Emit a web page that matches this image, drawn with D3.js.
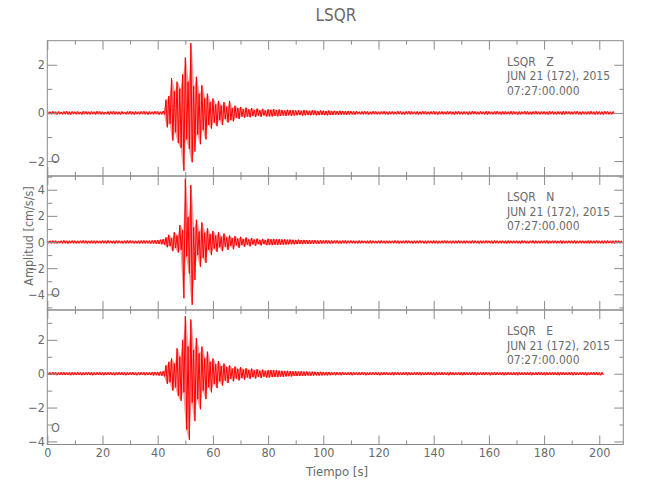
<!DOCTYPE html>
<html><head><meta charset="utf-8">
<script src="https://cdn.jsdelivr.net/npm/d3@7"></script>
<style>
body{margin:0;background:#fff}
svg text{font-family:"Liberation Sans Narrow","DejaVu Sans Condensed","Liberation Sans",sans-serif;fill:#6a6a6a}
</style></head><body>
<svg id="chart" width="650" height="500"></svg>
<script>
// ---------- data ----------
const chartTitle = "LSQR";
const xLabel = "Tiempo [s]";
const yLabel = "Amplitud [cm/s/s]";
const componentNames = ["LSQR   Z", "LSQR   N", "LSQR   E"];
const dateLine = "JUN 21 (172), 2015";
const timeLine = "07:27:00.000";
const markerLabel = "O";
const xDomain = [0, 208.7];
const xMajorTicks = [0, 20, 40, 60, 80, 100, 120, 140, 160, 180, 200];
const xMinorTicks = [10, 30, 50, 70, 90, 110, 130, 150, 170, 190];
const zDomain = [-2.62, 3.0];
const nDomain = [-5.2, 5.05];
const eDomain = [-4.18, 3.76];
const zTicks = [-2, 0, 2];
const nTicks = [-4, -2, 0, 2, 4];
const eTicks = [-4, -2, 0, 2];
const zMinor = [-1, 1];
const nMinor = [-5, -3, -1, 1, 3, 5];
const eMinor = [-3, -1, 1, 3];

// per-second peak (hi) and trough (lo) amplitudes
const zHi = [0.06,0.05,0.07,0.05,0.06,0.04,0.06,0.07,0.05,0.06,0.05,0.06,0.04,0.07,0.06,0.05,0.06,0.05,0.07,0.06,
0.05,0.04,0.06,0.06,0.07,0.05,0.05,0.06,0.04,0.06,0.07,0.05,0.06,0.05,0.06,0.07,0.05,0.06,0.05,0.07,
0.06,0.05,0.08,0.55,0.7,1.45,0.9,1.3,1.0,1.6,2.3,1.3,2.9,1.1,1.5,0.8,1.15,0.6,0.8,0.45,
0.6,0.35,0.5,0.3,0.45,0.25,0.5,0.2,0.3,0.2,0.25,0.15,0.22,0.14,0.2,0.12,0.18,0.11,0.17,0.1,
0.15,0.13,0.16,0.12,0.14,0.12,0.1,0.13,0.11,0.12,0.1,0.11,0.09,0.12,0.1,0.09,0.11,0.1,0.08,0.1,
0.09,0.08,0.1,0.08,0.09,0.07,0.09,0.08,0.07,0.08,0.07,0.06,0.07,0.05,0.06,0.07,0.06,0.05,0.07,0.06,
0.05,0.06,0.07,0.05,0.06,0.06,0.05,0.07,0.06,0.05,0.06,0.07,0.06,0.05,0.06,0.05,0.07,0.06,0.05,0.06,
0.07,0.05,0.06,0.06,0.05,0.07,0.06,0.05,0.06,0.07,0.05,0.06,0.05,0.06,0.07,0.06,0.05,0.06,0.05,0.07,
0.06,0.05,0.06,0.07,0.05,0.06,0.06,0.05,0.07,0.06,0.05,0.06,0.05,0.07,0.06,0.05,0.06,0.07,0.05,0.06,
0.06,0.05,0.07,0.06,0.05,0.06,0.05,0.07,0.06,0.06,0.05,0.06,0.07,0.05,0.06,0.05,0.06,0.07,0.05,0.06,
0.06,0.05,0.07,0.06,0.05,0.06];
const zLo = [-0.05,-0.06,-0.05,-0.07,-0.05,-0.06,-0.05,-0.06,-0.07,-0.05,-0.06,-0.05,-0.07,-0.05,-0.06,-0.06,-0.05,-0.07,-0.05,-0.06,
-0.06,-0.05,-0.07,-0.05,-0.06,-0.06,-0.07,-0.05,-0.06,-0.05,-0.06,-0.07,-0.05,-0.06,-0.05,-0.06,-0.07,-0.05,-0.06,-0.05,
-0.07,-0.06,-0.07,-0.6,-0.45,-1.15,-0.8,-1.25,-1.45,-2.4,-1.1,-1.5,-2.05,-1.6,-0.9,-1.3,-0.7,-1.1,-0.5,-0.65,
-0.4,-0.55,-0.3,-0.5,-0.25,-0.4,-0.3,-0.35,-0.2,-0.25,-0.15,-0.2,-0.15,-0.18,-0.12,-0.17,-0.11,-0.16,-0.1,-0.15,
-0.14,-0.15,-0.12,-0.14,-0.13,-0.11,-0.12,-0.1,-0.12,-0.11,-0.1,-0.09,-0.11,-0.1,-0.09,-0.1,-0.08,-0.1,-0.09,-0.08,
-0.09,-0.1,-0.08,-0.09,-0.07,-0.08,-0.08,-0.07,-0.08,-0.07,-0.06,-0.07,-0.05,-0.06,-0.06,-0.05,-0.07,-0.06,-0.05,-0.06,
-0.06,-0.05,-0.06,-0.07,-0.05,-0.06,-0.06,-0.05,-0.06,-0.07,-0.05,-0.06,-0.05,-0.06,-0.07,-0.06,-0.05,-0.06,-0.06,-0.05,
-0.06,-0.07,-0.05,-0.06,-0.06,-0.05,-0.06,-0.07,-0.05,-0.06,-0.06,-0.05,-0.07,-0.06,-0.05,-0.06,-0.06,-0.05,-0.06,-0.07,
-0.05,-0.06,-0.06,-0.05,-0.07,-0.06,-0.05,-0.06,-0.06,-0.05,-0.07,-0.06,-0.05,-0.06,-0.06,-0.07,-0.05,-0.06,-0.06,-0.05,
-0.06,-0.07,-0.05,-0.06,-0.06,-0.05,-0.07,-0.06,-0.05,-0.06,-0.06,-0.05,-0.06,-0.07,-0.05,-0.06,-0.06,-0.05,-0.07,-0.06,
-0.06,-0.07,-0.05,-0.06,-0.06,-0.05];

const nHi = [0.1,0.09,0.11,0.1,0.08,0.1,0.12,0.09,0.1,0.11,0.1,0.09,0.1,0.12,0.1,0.09,0.11,0.1,0.1,0.09,
0.11,0.1,0.12,0.09,0.1,0.11,0.1,0.09,0.1,0.12,0.11,0.1,0.09,0.1,0.11,0.12,0.1,0.11,0.12,0.13,
0.15,0.18,0.22,0.35,0.55,0.3,0.75,0.5,1.3,0.9,4.85,1.9,4.35,1.1,1.7,0.8,1.5,0.7,1.05,0.6,
0.85,0.5,0.75,0.4,0.65,0.35,0.5,0.3,0.45,0.25,0.4,0.22,0.35,0.2,0.3,0.18,0.27,0.16,0.24,0.15,
0.25,0.22,0.24,0.2,0.22,0.19,0.2,0.18,0.19,0.17,0.16,0.18,0.15,0.16,0.14,0.15,0.13,0.14,0.12,0.13,
0.12,0.13,0.11,0.12,0.11,0.12,0.1,0.11,0.12,0.1,0.11,0.1,0.09,0.11,0.1,0.09,0.1,0.11,0.1,0.09,
0.1,0.11,0.09,0.1,0.1,0.09,0.11,0.1,0.09,0.1,0.11,0.1,0.09,0.1,0.1,0.11,0.09,0.1,0.1,0.09,
0.11,0.1,0.09,0.1,0.11,0.1,0.09,0.1,0.1,0.11,0.09,0.1,0.1,0.09,0.11,0.1,0.09,0.1,0.1,0.11,
0.09,0.1,0.11,0.1,0.09,0.1,0.1,0.11,0.09,0.1,0.1,0.09,0.11,0.1,0.09,0.1,0.11,0.1,0.09,0.1,
0.1,0.11,0.09,0.1,0.1,0.09,0.11,0.1,0.09,0.1,0.1,0.11,0.09,0.1,0.1,0.09,0.11,0.1,0.1,0.11,
0.09,0.1,0.1,0.11,0.09,0.1,0.11,0.1,0.09];
const nLo = [-0.09,-0.1,-0.1,-0.11,-0.09,-0.1,-0.1,-0.12,-0.09,-0.1,-0.11,-0.1,-0.09,-0.1,-0.11,-0.1,-0.1,-0.12,-0.09,-0.1,
-0.1,-0.11,-0.09,-0.1,-0.12,-0.1,-0.09,-0.11,-0.1,-0.1,-0.09,-0.11,-0.1,-0.12,-0.1,-0.11,-0.1,-0.12,-0.11,-0.13,
-0.14,-0.17,-0.2,-0.4,-0.3,-0.7,-0.45,-0.8,-0.6,-4.3,-1.1,-2.4,-4.8,-2.9,-1.0,-1.9,-1.2,-1.6,-0.6,-1.0,
-0.5,-0.75,-0.4,-0.7,-0.35,-0.6,-0.3,-0.55,-0.25,-0.45,-0.22,-0.38,-0.2,-0.33,-0.18,-0.28,-0.16,-0.26,-0.15,-0.24,
-0.23,-0.24,-0.21,-0.22,-0.2,-0.2,-0.19,-0.18,-0.17,-0.18,-0.16,-0.15,-0.16,-0.14,-0.15,-0.13,-0.14,-0.12,-0.13,-0.12,
-0.11,-0.12,-0.12,-0.11,-0.1,-0.11,-0.12,-0.1,-0.11,-0.1,-0.09,-0.1,-0.11,-0.1,-0.09,-0.1,-0.1,-0.11,-0.09,-0.1,
-0.1,-0.09,-0.11,-0.1,-0.09,-0.1,-0.1,-0.11,-0.09,-0.1,-0.1,-0.09,-0.11,-0.1,-0.1,-0.09,-0.1,-0.11,-0.09,-0.1,
-0.1,-0.11,-0.09,-0.1,-0.1,-0.09,-0.11,-0.1,-0.1,-0.09,-0.1,-0.11,-0.09,-0.1,-0.1,-0.09,-0.11,-0.1,-0.1,-0.09,
-0.1,-0.11,-0.09,-0.1,-0.1,-0.09,-0.11,-0.1,-0.1,-0.09,-0.1,-0.11,-0.09,-0.1,-0.1,-0.09,-0.11,-0.1,-0.1,-0.09,
-0.1,-0.11,-0.09,-0.1,-0.1,-0.09,-0.11,-0.1,-0.1,-0.09,-0.1,-0.11,-0.09,-0.1,-0.1,-0.09,-0.11,-0.1,-0.1,-0.09,
-0.1,-0.11,-0.1,-0.09,-0.1,-0.11,-0.09,-0.1,-0.1];

const eHi = [0.08,0.07,0.09,0.08,0.07,0.08,0.09,0.07,0.08,0.08,0.07,0.09,0.08,0.07,0.08,0.09,0.08,0.07,0.08,0.09,
0.07,0.08,0.08,0.09,0.07,0.08,0.09,0.08,0.07,0.08,0.08,0.09,0.07,0.08,0.09,0.08,0.07,0.08,0.09,0.1,
0.1,0.12,0.15,0.5,0.7,0.9,0.6,1.5,1.0,2.0,3.4,1.6,3.2,1.4,2.1,1.2,1.6,0.9,1.3,0.7,
0.9,0.55,0.75,0.45,0.6,0.4,0.5,0.3,0.42,0.28,0.38,0.25,0.32,0.22,0.3,0.2,0.26,0.18,0.24,0.17,
0.21,0.22,0.2,0.2,0.18,0.17,0.16,0.17,0.15,0.14,0.15,0.13,0.14,0.12,0.13,0.11,0.12,0.11,0.1,0.11,
0.1,0.09,0.1,0.09,0.08,0.09,0.08,0.09,0.07,0.08,0.09,0.08,0.07,0.08,0.09,0.08,0.07,0.08,0.08,0.09,
0.07,0.08,0.09,0.08,0.07,0.08,0.08,0.09,0.07,0.08,0.09,0.08,0.07,0.08,0.08,0.09,0.07,0.08,0.09,0.08,
0.07,0.08,0.08,0.09,0.07,0.08,0.09,0.08,0.07,0.08,0.08,0.09,0.07,0.08,0.09,0.08,0.07,0.08,0.08,0.09,
0.07,0.08,0.09,0.08,0.07,0.08,0.08,0.09,0.07,0.08,0.09,0.08,0.07,0.08,0.08,0.09,0.07,0.08,0.09,0.08,
0.07,0.08,0.09,0.08,0.07,0.08,0.08,0.09,0.07,0.08,0.09,0.08,0.07,0.08,0.08,0.09,0.07,0.08,0.09,0.08,
0.07,0.08];
const eLo = [-0.07,-0.08,-0.08,-0.09,-0.07,-0.08,-0.08,-0.07,-0.09,-0.08,-0.08,-0.07,-0.09,-0.08,-0.07,-0.08,-0.09,-0.08,-0.07,-0.08,
-0.09,-0.08,-0.07,-0.08,-0.09,-0.08,-0.07,-0.08,-0.09,-0.08,-0.07,-0.08,-0.09,-0.08,-0.07,-0.09,-0.08,-0.08,-0.1,-0.09,
-0.11,-0.12,-0.16,-0.6,-0.5,-1.0,-0.8,-1.3,-1.6,-1.1,-3.3,-3.9,-1.7,-2.8,-1.5,-2.1,-1.0,-1.5,-0.8,-1.1,
-0.6,-0.85,-0.45,-0.7,-0.4,-0.55,-0.3,-0.45,-0.28,-0.4,-0.25,-0.35,-0.22,-0.3,-0.2,-0.28,-0.18,-0.25,-0.17,-0.23,
-0.22,-0.2,-0.19,-0.2,-0.17,-0.18,-0.16,-0.15,-0.16,-0.14,-0.14,-0.13,-0.12,-0.13,-0.11,-0.12,-0.11,-0.1,-0.11,-0.1,
-0.09,-0.1,-0.09,-0.08,-0.09,-0.08,-0.09,-0.07,-0.08,-0.08,-0.09,-0.07,-0.08,-0.08,-0.07,-0.09,-0.08,-0.08,-0.07,-0.08,
-0.09,-0.08,-0.07,-0.08,-0.08,-0.09,-0.07,-0.08,-0.08,-0.07,-0.09,-0.08,-0.08,-0.07,-0.08,-0.09,-0.08,-0.07,-0.08,-0.08,
-0.09,-0.07,-0.08,-0.08,-0.07,-0.09,-0.08,-0.08,-0.07,-0.08,-0.09,-0.08,-0.07,-0.08,-0.08,-0.09,-0.07,-0.08,-0.08,-0.07,
-0.09,-0.08,-0.08,-0.07,-0.08,-0.09,-0.08,-0.07,-0.08,-0.08,-0.09,-0.07,-0.08,-0.08,-0.07,-0.09,-0.08,-0.08,-0.07,-0.08,
-0.09,-0.08,-0.07,-0.08,-0.08,-0.09,-0.07,-0.08,-0.08,-0.07,-0.09,-0.08,-0.08,-0.07,-0.08,-0.09,-0.08,-0.07,-0.08,-0.08,
-0.09,-0.08];

// ---------- layout ----------
const svg = d3.select("#chart");
const L = 47.3, R = 623.3;
const panelEdges = [40.7, 176, 310, 444.5];
const axisColor = "#8a8a8a";
const traceColor = "#ff0000";

const x = d3.scaleLinear().domain(xDomain).range([L, R]);

const panels = [
  {name: componentNames[0], hi: zHi, lo: zLo, domain: zDomain, ticks: zTicks, minor: zMinor},
  {name: componentNames[1], hi: nHi, lo: nLo, domain: nDomain, ticks: nTicks, minor: nMinor},
  {name: componentNames[2], hi: eHi, lo: eLo, domain: eDomain, ticks: eTicks, minor: eMinor}
];

function styleAxis(g) {
  g.select(".domain").remove();
  g.selectAll(".tick line").attr("stroke", axisColor).attr("stroke-width", 1);
  g.selectAll(".tick text").attr("fill", "#6a6a6a").attr("font-size", 12.5)
    .style("font-family", '"Liberation Sans Narrow","DejaVu Sans Condensed",sans-serif');
}

panels.forEach((p, i) => {
  const top = panelEdges[i], bottom = panelEdges[i + 1];
  const y = d3.scaleLinear().domain(p.domain).range([bottom, top]);
  const g = svg.append("g");

  const cid = "clip" + i;
  svg.append("clipPath").attr("id", cid).append("rect")
    .attr("x", L).attr("y", top).attr("width", R - L).attr("height", bottom - top);

  // envelope band (light) and zig-zag trace (solid)
  const bins = p.hi.map((v, k) => ({t: k, hi: v, lo: p.lo[k]}));
  const area = d3.area().x(d => x(d.t + 0.25)).y0(d => y(d.lo)).y1(d => y(d.hi));
  g.append("path").attr("d", area(bins)).attr("fill", traceColor).attr("fill-opacity", 0.38)
    .attr("stroke", "none").attr("clip-path", `url(#${cid})`);

  const pts = [];
  bins.forEach(b => { pts.push([b.t, b.hi]); pts.push([b.t + 0.5, b.lo]); });
  const line = d3.line().x(d => x(d[0])).y(d => y(d[1]));
  g.append("path").attr("d", line(pts)).attr("fill", "none")
    .attr("stroke", traceColor).attr("stroke-width", 1)
    .attr("clip-path", `url(#${cid})`);

  // frame
  g.append("rect").attr("x", L).attr("y", top).attr("width", R - L).attr("height", bottom - top)
    .attr("fill", "none").attr("stroke", axisColor).attr("stroke-width", 1);

  // left axis
  g.append("g").attr("transform", `translate(${L},0)`)
    .call(d3.axisLeft(y).tickValues(p.ticks).tickSize(-10).tickPadding(2.5).tickFormat(d3.format("d")))
    .call(styleAxis);
  g.append("g").attr("transform", `translate(${L},0)`)
    .call(d3.axisLeft(y).tickValues(p.minor).tickSize(-5).tickFormat(""))
    .call(styleAxis);
  // right axis
  g.append("g").attr("transform", `translate(${R},0)`)
    .call(d3.axisRight(y).tickValues(p.ticks).tickSize(-9).tickFormat(""))
    .call(styleAxis);
  g.append("g").attr("transform", `translate(${R},0)`)
    .call(d3.axisRight(y).tickValues(p.minor).tickSize(-4).tickFormat(""))
    .call(styleAxis);
  // top axis
  g.append("g").attr("transform", `translate(0,${top})`)
    .call(d3.axisTop(x).tickValues(xMajorTicks).tickSize(-9).tickFormat(""))
    .call(styleAxis);
  g.append("g").attr("transform", `translate(0,${top})`)
    .call(d3.axisTop(x).tickValues(xMinorTicks).tickSize(-4).tickFormat(""))
    .call(styleAxis);
  // bottom axis
  const last = i === panels.length - 1;
  g.append("g").attr("transform", `translate(0,${bottom})`)
    .call(d3.axisBottom(x).tickValues(xMajorTicks).tickSize(-9).tickPadding(4)
      .tickFormat(last ? d3.format("d") : ""))
    .call(styleAxis);
  g.append("g").attr("transform", `translate(0,${bottom})`)
    .call(d3.axisBottom(x).tickValues(xMinorTicks).tickSize(-4).tickFormat(""))
    .call(styleAxis);

  // header text
  const tx = 507;
  const hdr = g.append("text").attr("x", tx).attr("y", top + 25).attr("font-size", 12)
    .style("white-space", "pre");
  hdr.append("tspan").attr("x", tx).attr("dy", 0).text(p.name);
  hdr.append("tspan").attr("x", tx).attr("dy", 14.5).text(dateLine);
  hdr.append("tspan").attr("x", tx).attr("dy", 14.5).text(timeLine);

  // marker
  g.append("text").attr("x", 51).attr("y", bottom - 13).attr("font-size", 12.5).text(markerLabel);
});

// title & axis labels
svg.append("text").attr("x", 336).attr("y", 21).attr("text-anchor", "middle")
  .attr("font-size", 17).text(chartTitle);
svg.append("text").attr("x", 337).attr("y", 476).attr("text-anchor", "middle")
  .attr("font-size", 13).text(xLabel);
svg.append("text").attr("transform", "translate(33,236) rotate(-90)").attr("text-anchor", "middle")
  .attr("font-size", 12.5).text(yLabel);
</script>
</body></html>
